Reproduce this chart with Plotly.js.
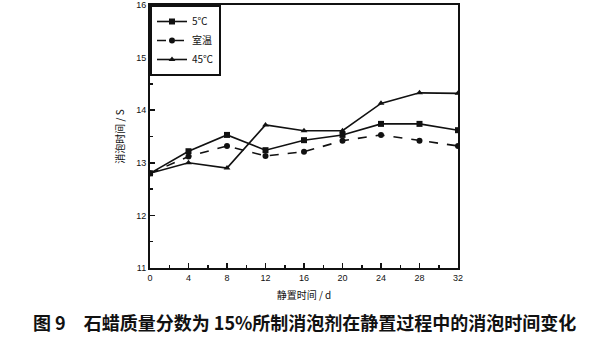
<!DOCTYPE html>
<html><head><meta charset="utf-8">
<script src="https://cdn.plot.ly/plotly-3.0.1.min.js"></script>
<style>body{margin:0;background:#fff}#c{width:605px;height:337px}</style>
</head><body><div id="c"></div>
<script>
const days = [0, 4, 8, 12, 16, 20, 24, 28, 32];
const seriesNames = ['5℃', '室温', '45℃'];
const t5 = [12.8, 13.22, 13.53, 13.24, 13.43, 13.53, 13.74, 13.74, 13.62];
const tRoom = [12.8, 13.12, 13.32, 13.13, 13.21, 13.42, 13.53, 13.42, 13.32];
const t45 = [12.8, 13.0, 12.9, 13.72, 13.61, 13.61, 14.13, 14.33, 14.32];
const xTicks = [0, 4, 8, 12, 16, 20, 24, 28, 32];
const yTicks = [11, 12, 13, 14, 15, 16];

const mk = (y, name, dash, sym) => ({
  x: days, y: y, name: name, type: 'scatter', mode: 'lines+markers',
  line: {color: '#111', width: 1.6, dash: dash},
  marker: {color: '#111', size: 6, symbol: sym}
});
const data = [
  mk(t5, seriesNames[0], 'solid', 'square'),
  mk(tRoom, seriesNames[1], 'dash', 'circle'),
  mk(t45, seriesNames[2], 'solid', 'triangle-up')
];
const font = {family: 'Noto Sans CJK SC, sans-serif', color: '#111'};
const layout = {
  width: 605, height: 337,
  margin: {l: 150, r: 147, t: 5, b: 69},
  paper_bgcolor: '#fff', plot_bgcolor: '#fff',
  font: font,
  showlegend: true,
  legend: {x: 0, y: 1, xanchor: 'left', yanchor: 'top', bordercolor: '#111', borderwidth: 2,
    bgcolor: '#fff', font: {size: 10, color: '#111', family: 'Noto Sans CJK SC, sans-serif'}, tracegroupgap: 0},
  xaxis: {
    range: [0, 32], tickvals: xTicks, ticktext: xTicks.map(String),
    ticks: 'inside', ticklen: 5, tickwidth: 1.5, tickcolor: '#111',
    minor: {ticks: 'inside', ticklen: 3, dtick: 2, tickcolor: '#111'},
    showline: true, linecolor: '#111', linewidth: 2, mirror: true,
    showgrid: false, zeroline: false,
    tickfont: {size: 9, color: '#111', family: 'Liberation Sans, sans-serif'},
    title: {text: '静置时间 / d', font: {size: 10, color: '#111', family: 'Noto Sans CJK SC, sans-serif'}, standoff: 10}
  },
  yaxis: {
    range: [11, 16], tickvals: yTicks, ticktext: yTicks.map(String),
    ticks: 'inside', ticklen: 5, tickwidth: 1.5, tickcolor: '#111',
    minor: {ticks: 'inside', ticklen: 3, dtick: 0.5, tickcolor: '#111'},
    showline: true, linecolor: '#111', linewidth: 2, mirror: true,
    showgrid: false, zeroline: false,
    tickfont: {size: 9, color: '#111', family: 'Liberation Sans, sans-serif'},
    title: {text: '消泡时间 / S', font: {size: 10, color: '#111', family: 'Noto Sans CJK SC, sans-serif'}, standoff: 10}
  },
  annotations: [{
    text: '<b>图 9　石蜡质量分数为 15%所制消泡剂在静置过程中的消泡时间变化</b>',
    xref: 'paper', yref: 'paper', x: 0.5, y: -0.15, xanchor: 'center', yanchor: 'top',
    showarrow: false, font: {size: 18, color: '#111', family: 'Noto Sans CJK SC, sans-serif'}
  }]
};
Plotly.newPlot('c', data, layout, {staticPlot: true});
</script></body></html>
